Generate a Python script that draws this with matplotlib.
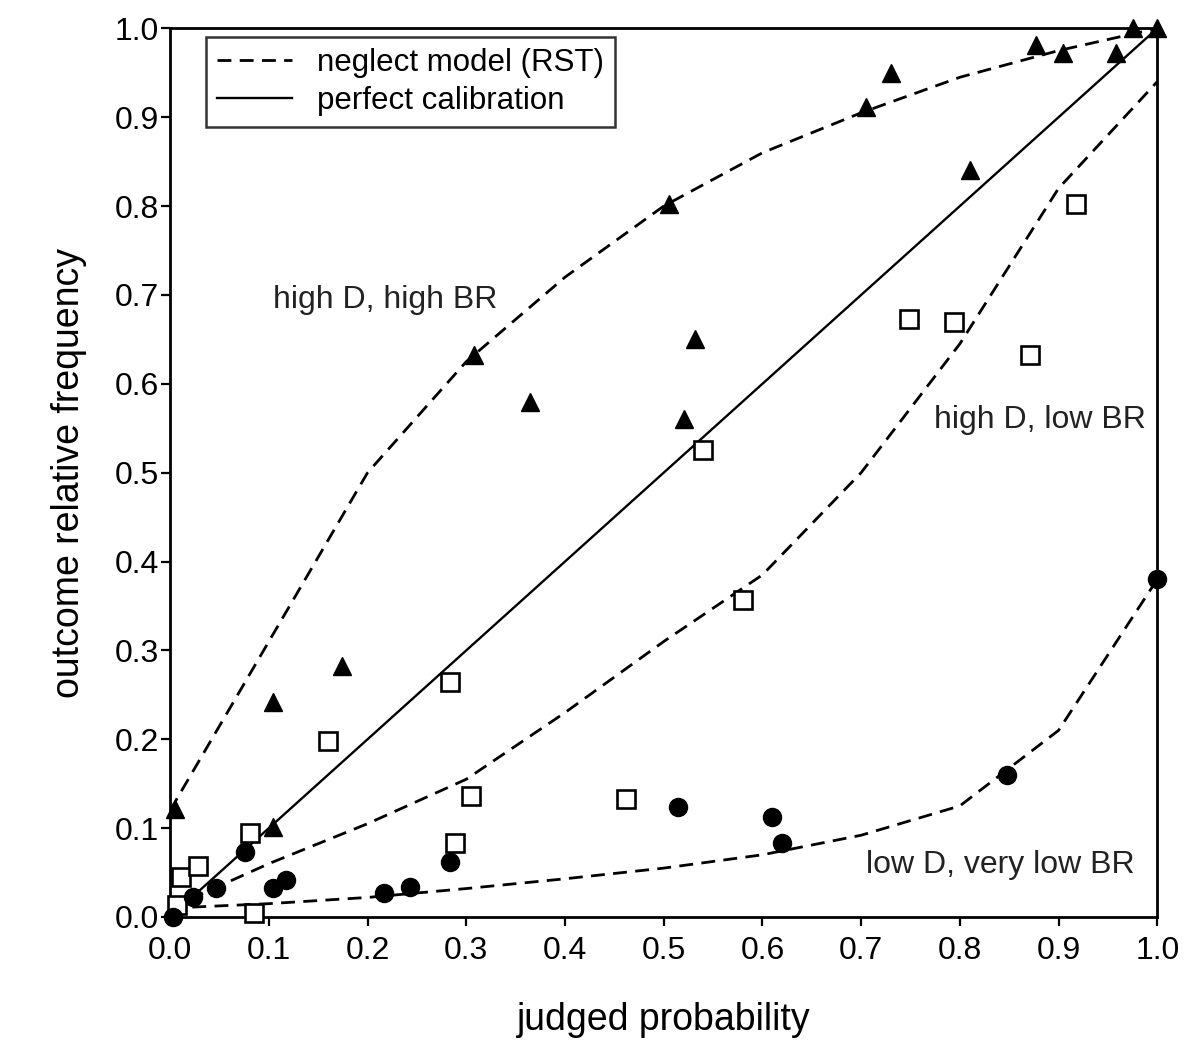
# calibration plot: judged probability vs outcome relative frequency

import numpy as np
import matplotlib
matplotlib.use('Agg')
import matplotlib.pyplot as plt

plt.rcParams['font.family'] = ['Liberation Sans', 'DejaVu Sans']

# high D, high BR (filled triangles)
tri_x = [0.005, 0.104, 0.104, 0.174, 0.308, 0.365, 0.505, 0.521, 0.532,
         0.705, 0.730, 0.810, 0.877, 0.905, 0.958, 0.975, 1.0]
tri_y = [0.122, 0.101, 0.242, 0.283, 0.632, 0.580, 0.802, 0.560, 0.650,
         0.911, 0.950, 0.841, 0.981, 0.972, 0.972, 1.0, 1.0]

# high D, low BR (open squares)
sq_x = [0.007, 0.011, 0.028, 0.081, 0.085, 0.160, 0.284, 0.289, 0.305,
        0.462, 0.540, 0.580, 0.749, 0.794, 0.871, 0.918]
sq_y = [0.013, 0.045, 0.057, 0.094, 0.005, 0.198, 0.264, 0.083, 0.136,
        0.133, 0.525, 0.357, 0.673, 0.670, 0.632, 0.802]

# low D, very low BR (filled circles)
dot_x = [0.003, 0.023, 0.046, 0.076, 0.104, 0.117, 0.217, 0.243, 0.284,
         0.514, 0.610, 0.620, 0.848, 1.0]
dot_y = [0.0, 0.022, 0.033, 0.073, 0.033, 0.042, 0.027, 0.034, 0.062,
         0.124, 0.113, 0.083, 0.160, 0.380]

# neglect model (RST) curves
curve_x = np.round(np.arange(0, 1.01, 0.1), 2)
curve_high = [0.12, 0.31, 0.50, 0.625, 0.72, 0.80, 0.86, 0.905, 0.945, 0.975, 1.0]
curve_low = [0.01, 0.06, 0.105, 0.155, 0.23, 0.31, 0.385, 0.50, 0.645, 0.82, 0.94]
curve_vlow = [0.01, 0.015, 0.022, 0.032, 0.043, 0.055, 0.07, 0.092, 0.125, 0.21, 0.38]

ticks = np.round(np.arange(0, 1.01, 0.1), 1)
tick_labels = ['%.1f' % t for t in ticks]

fig = plt.figure(figsize=(11.98, 10.51), dpi=100)
ax = fig.add_axes([0.142, 0.1275, 0.824, 0.8455])

dash = (5, 3)
ax.plot(curve_x, curve_high, color='black', lw=2, dashes=dash,
        label='neglect model (RST)', zorder=2)
ax.plot(curve_x, curve_low, color='black', lw=2, dashes=dash, zorder=2)
ax.plot(curve_x, curve_vlow, color='black', lw=2, dashes=dash, zorder=2)
ax.plot([0, 1], [0, 1], color='black', lw=1.7, label='perfect calibration', zorder=2)

ax.plot(tri_x, tri_y, '^', color='black', ms=13, ls='none', clip_on=False, zorder=3)
ax.plot(sq_x, sq_y, 's', mfc='white', mec='black', mew=1.9, ms=13, ls='none',
        clip_on=False, zorder=3)
ax.plot(dot_x, dot_y, 'o', color='black', ms=13, ls='none', clip_on=False, zorder=3)

ax.text(0.218, 0.694, 'high D, high BR', fontsize=23, ha='center', va='center', color='#222222')
ax.text(0.881, 0.559, 'high D, low BR', fontsize=23, ha='center', va='center', color='#222222')
ax.text(0.841, 0.058, 'low D, very low BR', fontsize=23, ha='center', va='center', color='#222222')

ax.set_xlim(0, 1)
ax.set_ylim(0, 1)
ax.set_xticks(ticks)
ax.set_xticklabels(tick_labels, fontsize=23)
ax.set_yticks(ticks)
ax.set_yticklabels(tick_labels, fontsize=23)
ax.tick_params(direction='out', length=6.5, width=1.6)
ax.tick_params(axis='y', pad=1.5)
ax.tick_params(axis='x', pad=7)
for s in ax.spines.values():
    s.set_linewidth(2)

ax.set_xlabel('judged probability', fontsize=27, labelpad=26)
ax.set_ylabel('outcome relative frequency', fontsize=27, labelpad=20)

leg = ax.legend(loc='upper left', bbox_to_anchor=(0.036, 0.99), fontsize=22.5,
                frameon=True, fancybox=False, edgecolor='black', handlelength=2.4,
                borderpad=0.35, labelspacing=0.25, handletextpad=0.8,
                borderaxespad=0.0)
leg.get_frame().set_linewidth(1.8)

fig.savefig('out.png', dpi=100)
